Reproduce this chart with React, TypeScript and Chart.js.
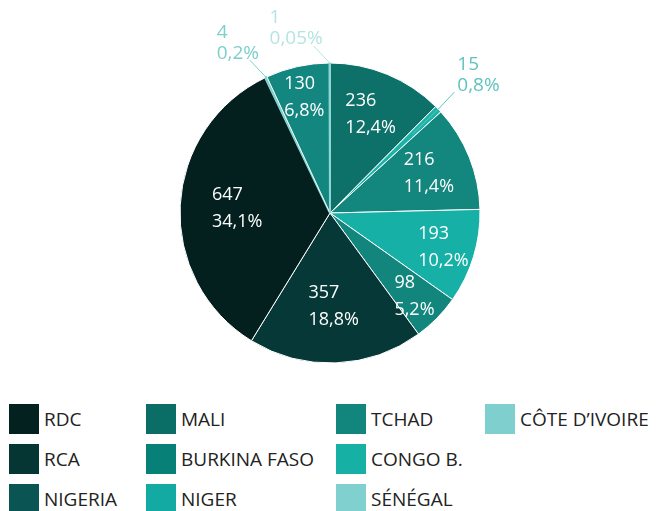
import React, { useEffect, useRef } from "react";
import { Chart, registerables } from "chart.js";

Chart.register(...registerables);

// Slices in drawing order (clockwise from 12 o'clock)
const sliceLabels = ["MALI", "NIGER", "TCHAD", "CONGO B.", "BURKINA FASO", "RCA", "RDC", "SÉNÉGAL", "NIGERIA", "CÔTE D’IVOIRE"];
const sliceValues = [236, 15, 216, 193, 98, 357, 647, 4, 130, 1];
const slicePercents = ["12,4%", "0,8%", "11,4%", "10,2%", "5,2%", "18,8%", "34,1%", "0,2%", "6,8%", "0,05%"];
const sliceColors = ["#0d7169", "#1ab3a8", "#13867e", "#17b0a6", "#12857d", "#053836", "#03201f", "#7fd0cd", "#13877f", "#8fd6d3"];
const outerLabelColors = ["#ffffff", "#5ec3be", "#ffffff", "#ffffff", "#ffffff", "#ffffff", "#ffffff", "#7dcfcc", "#ffffff", "#b5e4e3"];

// Legend (row-major, 4 columns)
const legendLabels = ["RDC", "MALI", "TCHAD", "CÔTE D’IVOIRE", "RCA", "BURKINA FASO", "CONGO B.", "", "NIGERIA", "NIGER", "SÉNÉGAL", ""];
const legendColors = ["#03221f", "#0a6e67", "#12857d", "#7ecfcd", "#063634", "#078077", "#17b0a4", "", "#0a5553", "#13aaa3", "#80d0d0", ""];

const FONT = "'Open Sans', 'DejaVu Sans', sans-serif";

const labelPlugin = {
  id: "sliceLabels",
  afterDatasetsDraw(chart: any) {
    const ctx = chart.ctx as CanvasRenderingContext2D;
    const meta = chart.getDatasetMeta(0);
    const total = sliceValues.reduce((a, b) => a + b, 0);
    ctx.save();
    ctx.textBaseline = "middle";
    ctx.textAlign = "left";
    meta.data.forEach((arc: any, i: number) => {
      const { x, y, startAngle, endAngle, outerRadius } = arc.getProps(
        ["x", "y", "startAngle", "endAngle", "outerRadius"],
        true
      );
      const mid = (startAngle + endAngle) / 2;
      const share = (sliceValues[i] / total) * 100;
      const l1 = String(sliceValues[i]);
      const l2 = slicePercents[i];
      if (share >= 2) {
        ctx.font = `18px ${FONT}`;
        const w = Math.max(ctx.measureText(l1).width, ctx.measureText(l2).width);
        const f = share > 15 ? 0.62 : share > 11 ? 0.71 : 0.79;
        const px = x + Math.cos(mid) * outerRadius * f;
        const py = y + Math.sin(mid) * outerRadius * f;
        ctx.fillStyle = "#ffffff";
        ctx.fillText(l1, px - w / 2, py - 13.5);
        ctx.fillText(l2, px - w / 2, py + 13.5);
      } else {
        ctx.font = `19px ${FONT}`;
        const w = Math.max(ctx.measureText(l1).width, ctx.measureText(l2).width);
        const col = outerLabelColors[i];
        const startF = share >= 0.5 ? 0.76 : 1;
        const sx = x + Math.cos(mid) * outerRadius * startF;
        const sy = y + Math.sin(mid) * outerRadius * startF;
        const ex0 = x + Math.cos(mid) * outerRadius;
        const ey0 = y + Math.sin(mid) * outerRadius;
        const right = Math.cos(mid) > 0.05;
        const dir = right ? 1 : -1;
        const ex = ex0 + dir * 16;
        const ey = ey0 - 17;
        ctx.strokeStyle = col;
        ctx.lineWidth = 1;
        ctx.beginPath();
        ctx.moveTo(sx, sy);
        ctx.lineTo(ex0, ey0);
        ctx.lineTo(ex, ey);
        ctx.stroke();
        ctx.fillStyle = col;
        const left = right ? ex + 3 : ex + 9 - w;
        const bottom = ey - 7;
        ctx.fillText(l1, left, bottom - 21);
        ctx.fillText(l2, left, bottom);
      }
    });
    ctx.restore();
  },
};

function PieChart() {
  const ref = useRef<HTMLCanvasElement | null>(null);
  useEffect(() => {
    if (!ref.current) return;
    const chart = new Chart(ref.current, {
      type: "pie",
      data: {
        labels: sliceLabels,
        datasets: [
          {
            data: sliceValues,
            backgroundColor: sliceColors,
            borderColor: sliceColors.map((c, i) => (sliceValues[i] < 10 ? c : "#ffffff")),
            borderWidth: sliceValues.map((v) => (v < 10 ? 2 : 1)),
          },
        ],
      },
      options: {
        responsive: false,
        animation: false,
        layout: { padding: { top: 54, bottom: 34, left: 4, right: 0 } },
        plugins: {
          legend: { display: false },
          tooltip: { enabled: false },
          title: { display: false },
        },
      },
      plugins: [labelPlugin],
    });
    return () => chart.destroy();
  }, []);
  return <canvas ref={ref} width={640} height={390} style={{ display: "block", position: "absolute", left: 0, top: 0 }} />;
}

export default function App() {
  return (
    <div style={{ position: "relative", width: 648, height: 503 }}>
      <PieChart />
      <div
        style={{
          position: "absolute",
          left: 1,
          top: 396,
          display: "grid",
          gridTemplateColumns: "137px 190px 149px 170px",
          gridAutoRows: "40px",
          fontFamily: FONT,
          fontSize: 19,
          color: "#222222",
        }}
      >
        {legendLabels.map((lab, i) =>
          lab ? (
            <div key={i} style={{ display: "flex", alignItems: "flex-start", height: 40 }}>
              <div style={{ width: 30, height: 30, background: legendColors[i], flex: "none" }} />
              <div style={{ marginLeft: 5, lineHeight: "30px", whiteSpace: "nowrap" }}>{lab}</div>
            </div>
          ) : (
            <div key={i} />
          )
        )}
      </div>
    </div>
  );
}
